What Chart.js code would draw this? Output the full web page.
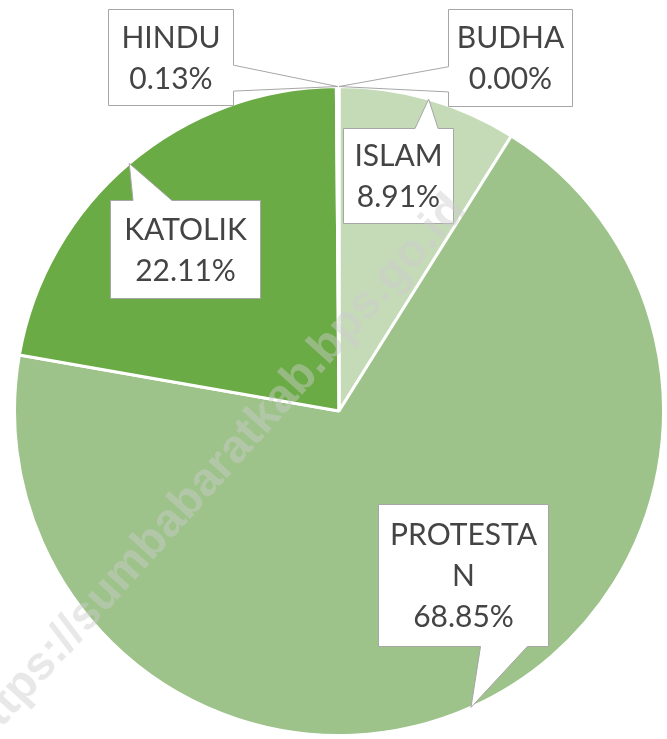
<!DOCTYPE html>
<html><head><meta charset="utf-8">
<script src="https://cdn.jsdelivr.net/npm/chart.js@4.4.1/dist/chart.umd.min.js"></script>
<style>html,body{margin:0;padding:0;background:#fff;overflow:hidden}#wrap{width:667px;height:739px;position:relative}</style>
</head><body><div id="wrap"><canvas id="c" width="667" height="739"></canvas></div>
<script>
// ---- data ----
const categories = ["ISLAM", "PROTESTAN", "KATOLIK", "HINDU", "BUDHA"];
const percentages = [8.91, 68.85, 22.11, 0.13, 0.00];
const sliceColors = ["#c5dbb8", "#9dc38a", "#6bab45", "#548235", "#a9d08e"];

// ---- callout style (box offset from slice tip, size, side of wedge, wedge base fractions) ----
const calloutLayout = {
  HINDU:     {dx: -230, dy: -78, w: 125, h: 96,  side: "right",  b0: 0.58, b1: 0.85},
  BUDHA:     {dx: 109,  dy: -78, w: 124, h: 97,  side: "left",   b0: 0.59, b1: 0.85},
  ISLAM:     {dx: -86,  dy: 29,  w: 110, h: 95,  side: "top",    b0: 0.65, b1: 0.86},
  KATOLIK:   {dx: -19,  dy: 37,  w: 150, h: 98,  side: "top",    b0: 0.15, b1: 0.41},
  PROTESTAN: {dx: -93,  dy: -203,w: 170, h: 142, side: "bottom", b0: 0.60, b1: 0.876}
};
const FONT = "30px Lato";
const LINE_H = 41;
const WM_FONT = "bold 47px 'Liberation Sans'";

function wrapChars(ctx, text, maxW) {
  const lines = []; let cur = "";
  for (const ch of text) {
    if (cur && ctx.measureText(cur + ch).width > maxW) { lines.push(cur); cur = ch; }
    else cur += ch;
  }
  if (cur) lines.push(cur);
  return lines;
}

const calloutPlugin = {
  id: "callouts",
  afterDatasetsDraw(chart) {
    const ctx = chart.ctx;
    const meta = chart.getDatasetMeta(0);
    ctx.save();
    ctx.font = FONT;
    meta.data.forEach((arc, i) => {
      const p = arc.getProps(["x", "y", "startAngle", "endAngle", "outerRadius"], true);
      const mid = (p.startAngle + p.endAngle) / 2;
      const tip = {x: p.x + Math.cos(mid) * p.outerRadius, y: p.y + Math.sin(mid) * p.outerRadius};
      const L = calloutLayout[categories[i]];
      const x = Math.round(tip.x + L.dx) + 0.5, y = Math.round(tip.y + L.dy) + 0.5, w = L.w, h = L.h;
      ctx.beginPath();
      ctx.moveTo(x, y);
      if (L.side === "top") { ctx.lineTo(x + L.b0 * w, y); ctx.lineTo(tip.x, tip.y); ctx.lineTo(x + L.b1 * w, y); }
      ctx.lineTo(x + w, y);
      if (L.side === "right") { ctx.lineTo(x + w, y + L.b0 * h); ctx.lineTo(tip.x, tip.y); ctx.lineTo(x + w, y + L.b1 * h); }
      ctx.lineTo(x + w, y + h);
      if (L.side === "bottom") { ctx.lineTo(x + L.b1 * w, y + h); ctx.lineTo(tip.x, tip.y); ctx.lineTo(x + L.b0 * w, y + h); }
      ctx.lineTo(x, y + h);
      if (L.side === "left") { ctx.lineTo(x, y + L.b1 * h); ctx.lineTo(tip.x, tip.y); ctx.lineTo(x, y + L.b0 * h); }
      ctx.closePath();
      ctx.fillStyle = "#ffffff"; ctx.fill();
      ctx.strokeStyle = "#a6a6a6"; ctx.lineWidth = 1; ctx.stroke();
      const lines = wrapChars(ctx, categories[i], w - 16).concat([percentages[i].toFixed(2) + "%"]);
      ctx.fillStyle = "#444444"; ctx.textAlign = "center"; ctx.textBaseline = "middle";
      const cy = y + h / 2, start = cy - (lines.length - 1) * LINE_H / 2;
      lines.forEach((t, k) => ctx.fillText(t, x + w / 2, start + k * LINE_H + 1));
    });
    ctx.restore();
  }
};

const watermarkPlugin = {
  id: "watermark",
  afterDraw(chart) {
    const ctx = chart.ctx;
    ctx.save();
    ctx.translate(458, 202);
    ctx.rotate(-48 * Math.PI / 180);
    ctx.font = WM_FONT;
    ctx.textAlign = "right"; ctx.textBaseline = "middle";
    ctx.fillStyle = "rgba(205,205,205,0.45)";
    ctx.fillText("https://sumbabaratkab.bps.go.id", 0, 0);
    ctx.restore();
  }
};

function build() {
  new Chart(document.getElementById("c"), {
    type: "pie",
    data: {
      labels: categories,
      datasets: [{
        data: percentages,
        backgroundColor: sliceColors,
        borderColor: "#ffffff",
        borderWidth: 3
      }]
    },
    options: {
      responsive: false,
      animation: false,
      layout: {padding: {left: 13, top: 85, right: 2, bottom: 2}},
      plugins: {legend: {display: false}, tooltip: {enabled: false}}
    },
    plugins: [calloutPlugin, watermarkPlugin]
  });
}
if (document.fonts && document.fonts.load) {
  Promise.all([document.fonts.load(FONT), document.fonts.load(WM_FONT)]).then(build, build);
} else build();
</script>
</body></html>
